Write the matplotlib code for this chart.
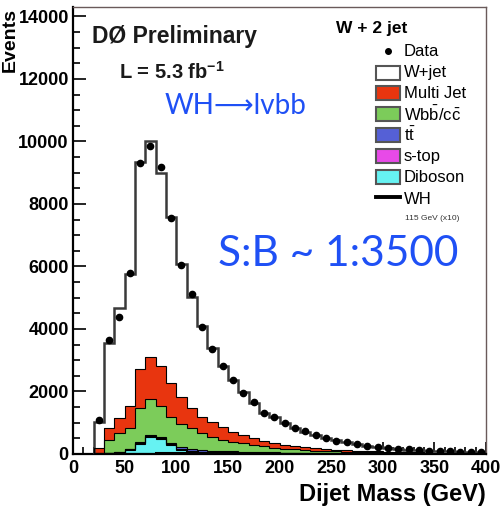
import numpy as np
import matplotlib
matplotlib.use('Agg')
import matplotlib.pyplot as plt
from matplotlib.patches import Rectangle
from matplotlib.lines import Line2D
from matplotlib.ticker import MultipleLocator

plt.rcParams['font.family'] = ['Liberation Sans', 'DejaVu Sans']
plt.rcParams['mathtext.fontset'] = 'custom'
plt.rcParams['mathtext.rm'] = 'Liberation Sans'
plt.rcParams['mathtext.bf'] = 'Liberation Sans:bold'

# Dijet mass binning (GeV), 10 GeV bins
edges = np.arange(20, 401, 10)
centers = edges[:-1] + 5

# Events per bin, W + 2 jet channel
data = [1090, 3650, 4390, 5780, 9320, 9860, 9180, 7560, 6050, 5120, 4070, 3360, 2820, 2370,
        1960, 1650, 1300, 1180, 980, 820, 720, 610, 510, 430, 370, 310, 270, 230, 195, 165,
        145, 125, 105, 92, 80, 70, 60, 55]
wjet = [850, 2740, 3530, 4220, 6630, 6890, 6170, 5330, 4250, 3570, 2910, 2350, 1930, 1650,
        1360, 1140, 920, 830, 700, 570, 500, 430, 360, 300, 250, 210, 175, 145, 125, 105,
        85, 70, 60, 50, 45, 38, 32, 27]
multijet = [140, 370, 480, 700, 1260, 1360, 1290, 1070, 870, 640, 530, 480, 420, 320, 270,
            210, 160, 140, 120, 100, 80, 70, 65, 55, 45, 35, 32, 30, 25, 20, 19, 18, 16, 14,
            12, 10, 10, 9]
wbb = [35, 410, 600, 670, 1070, 1140, 990, 830, 750, 670, 540, 450, 360, 310, 270, 230, 185,
       150, 125, 110, 95, 80, 68, 61, 54, 47, 42, 36, 33, 30, 27, 24, 22, 20, 18, 15, 14, 12]
ttbar = [1, 10, 12, 25, 35, 40, 40, 42, 45, 48, 45, 42, 43, 40, 37, 32, 30, 28, 26, 23, 20,
         17, 15, 14, 12, 10, 9, 7, 7, 5, 4, 4, 3, 3, 2, 2, 2, 2]
stop = [1, 5, 8, 15, 25, 30, 30, 28, 25, 22, 20, 18, 17, 15, 13, 11, 10, 9, 8, 7, 6, 5, 5, 4,
        4, 3, 3, 3, 2, 2, 2, 2, 2, 1, 1, 1, 1, 1]
diboson = [3, 25, 40, 130, 330, 540, 480, 290, 140, 80, 55, 40, 30, 25, 20, 17, 15, 13, 11,
           10, 9, 8, 7, 6, 5, 5, 4, 4, 3, 3, 3, 2, 2, 2, 2, 2, 1, 1]
wh_x10 = [0, 1, 2, 4, 8, 14, 22, 32, 42, 48, 45, 36, 26, 18, 12, 8, 5, 3, 2, 1, 1, 0, 0, 0,
          0, 0, 0, 0, 0, 0, 0, 0, 0, 0, 0, 0, 0, 0]

# stack order, bottom to top
stack = [diboson, stop, ttbar, wbb, multijet, wjet]
colors = ['#66f2f2', '#e84ae8', '#5560d6', '#7ccc5a', '#e8350f', 'white']
labels = ['Diboson', 's-top', r't$\bar{\mathrm{t}}$', r'Wb$\bar{\mathrm{b}}$/c$\bar{\mathrm{c}}$',
          'Multi Jet', 'W+jet']
cum = np.cumsum(np.array(stack, dtype=float), axis=0)

W, H = 502, 509
fig = plt.figure(figsize=(W / 100, H / 100), dpi=100)
ax = fig.add_axes([73 / W, 1 - 454 / H, (486 - 73) / W, (454 - 7) / H])

def px(x):
    return x / W

def py(y):
    return 1 - y / H

# draw the stack from the top level down so each band sits over the one above
for i in range(len(stack) - 1, -1, -1):
    ax.stairs(cum[i], edges, fill=True, color=colors[i], zorder=2)
    if i == len(stack) - 1:
        ax.stairs(cum[i], edges, color='#3a3a3a', lw=1.8, zorder=3)
    else:
        ax.stairs(cum[i], edges, color='black', lw=0.8, zorder=3)

ax.stairs(wh_x10, edges, color='black', lw=2.2, zorder=4)

d = np.array(data, dtype=float)
ax.errorbar(centers, d, yerr=np.sqrt(d), fmt='o', color='black', ms=4.5,
            elinewidth=0.8, capsize=0, zorder=5)

ax.set_xlim(0, 400)
ax.set_ylim(0, 14300)
ax.xaxis.set_major_locator(MultipleLocator(50))
ax.xaxis.set_minor_locator(MultipleLocator(10))
ax.yaxis.set_major_locator(MultipleLocator(2000))
ax.yaxis.set_minor_locator(MultipleLocator(500))
ax.tick_params(which='both', direction='in', top=False, right=False, width=1.2,
               labelsize=13)
ax.tick_params(which='major', length=9)
ax.tick_params(which='minor', length=5)
for lab in ax.get_xticklabels() + ax.get_yticklabels():
    lab.set_fontweight('bold')
ax.tick_params(axis='y', pad=3)
ax.tick_params(axis='x', pad=4)
ax.spines['left'].set_linewidth(1.6)
ax.spines['bottom'].set_linewidth(1.6)
for s in ['top', 'right']:
    ax.spines[s].set_color('#6a5a5a')
    ax.spines[s].set_linewidth(1.0)

fig.text(px(10), py(8), 'Events', rotation=90, ha='center', va='top',
         fontsize=14, fontweight='bold')
fig.text(px(486), py(495), 'Dijet Mass (GeV)', ha='right', va='center',
         fontsize=17, fontweight='bold')

fig.text(px(174), py(37), 'DØ Preliminary', ha='center', va='center',
         fontsize=16.5, fontweight='bold', color='#1a1a1a')
fig.text(px(172), py(72), r'L = 5.3 fb$^{\mathbf{-1}}$', ha='center', va='center',
         fontsize=14.5, fontweight='bold', color='#1a1a1a')

blue = '#1f50f5'
fig.text(px(165), py(106), 'WH⟶lvbb', ha='left', va='center', fontsize=20,
         color=blue, family=['Lato', 'DejaVu Sans'])
fig.text(px(218), py(254), 'S:B ~ 1:3500', ha='left', va='center', fontsize=30.5,
         color=blue, family=['Lato', 'DejaVu Sans'])

# legend
fig.text(px(372), py(28), 'W + 2 jet', ha='center', va='center', fontsize=12.5,
         fontweight='bold')
fig.add_artist(Line2D([px(388)], [py(51)], marker='o', ms=4, color='black',
                      transform=fig.transFigure))
fig.text(px(404), py(51), 'Data', ha='left', va='center', fontsize=12)
entry_y = [177, 156, 135, 114, 93, 73]
for i in range(len(stack) - 1, -1, -1):
    y = entry_y[i]
    fig.add_artist(Rectangle((px(376), py(y + 7)), 24 / W, 14 / H, transform=fig.transFigure,
                             facecolor=colors[i], edgecolor='#555555', lw=1.5))
    fig.text(px(404), py(y), labels[i], ha='left', va='center', fontsize=12)
fig.add_artist(Line2D([px(376), px(400)], [py(197), py(197)], lw=2.8, color='black',
                      transform=fig.transFigure))
fig.text(px(404), py(199), 'WH', ha='left', va='center', fontsize=12)
fig.text(px(405), py(218), '115 GeV (x10)', ha='left', va='center', fontsize=6,
         color='#333333')

fig.savefig('out.png', dpi=100)
